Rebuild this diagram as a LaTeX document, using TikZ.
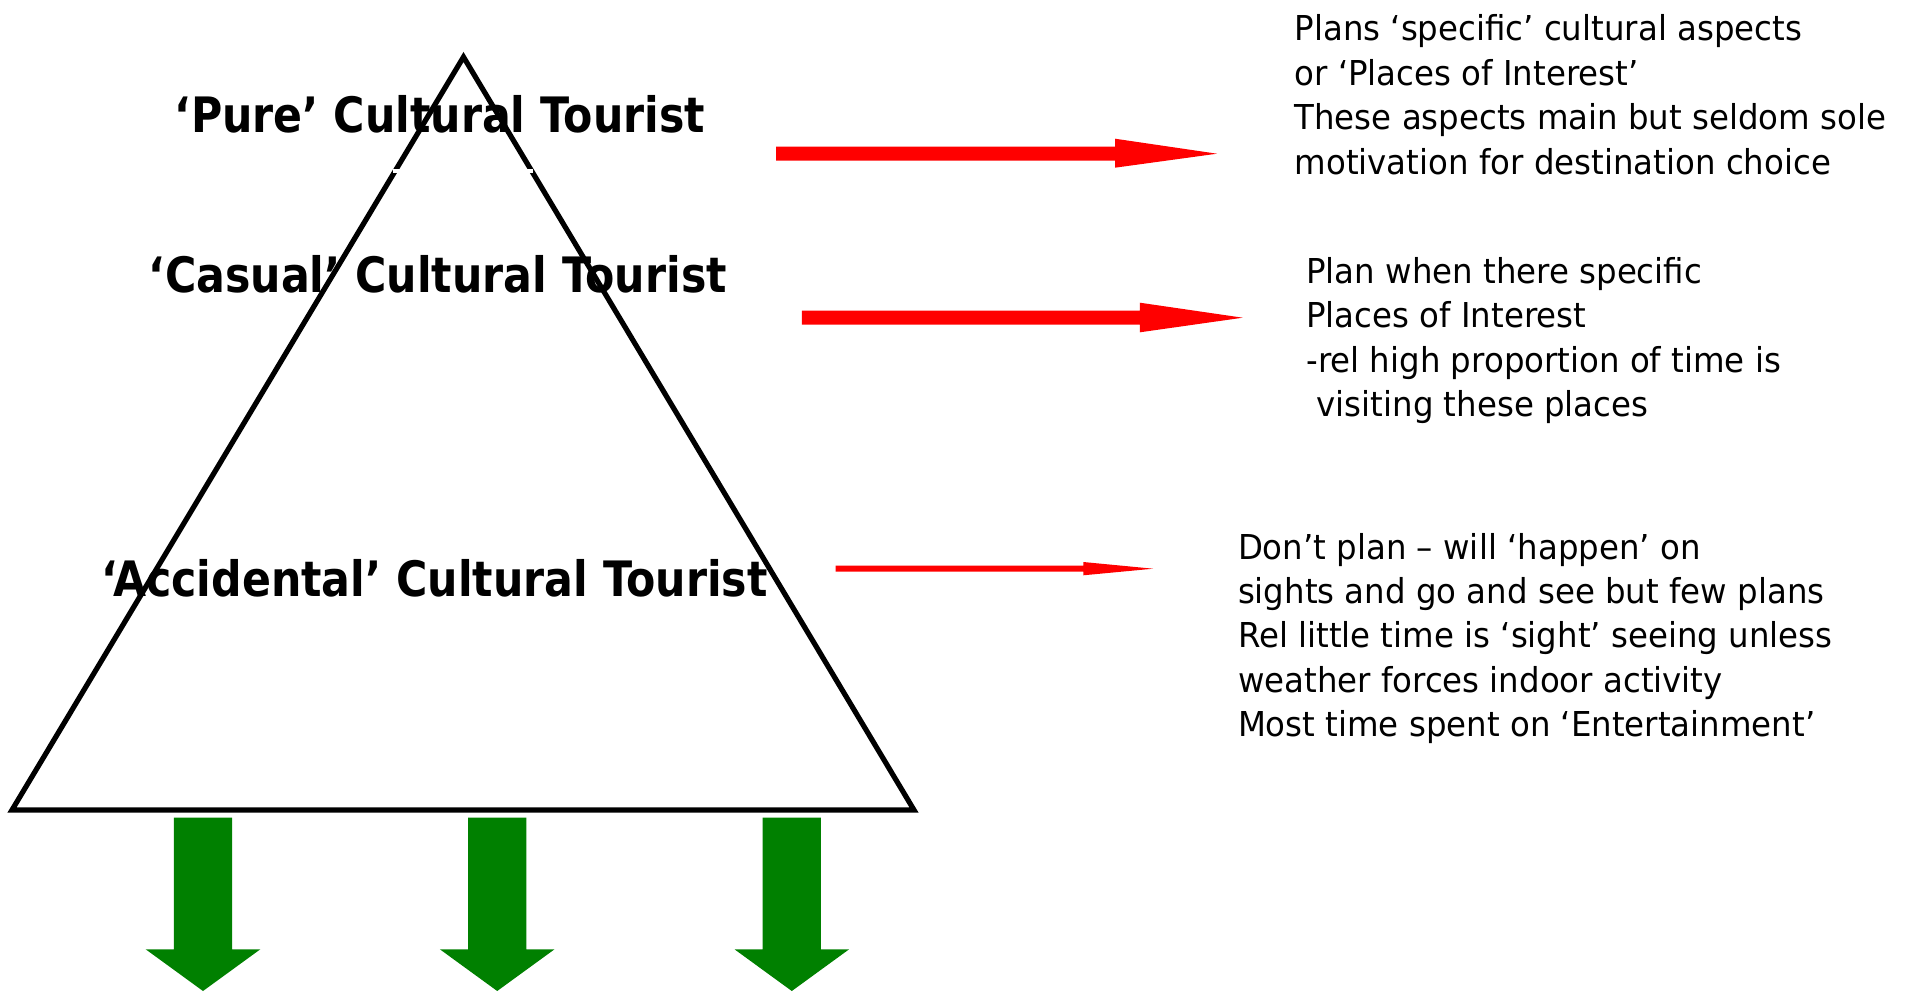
\documentclass[tikz,border=0pt]{standalone}
\usepackage{fontspec}
\setmainfont{DejaVu Sans}
\newfontfamily\bodyfont{DejaVu Sans}[FakeStretch=0.945]
\newfontfamily\headfont{DejaVu Sans}[FakeStretch=0.875]
\definecolor{arrowred}{RGB}{255,0,0}
\definecolor{arrowgreen}{RGB}{0,128,0}
\tikzset{
  pyramid/.style={draw=black, line width=2.6pt, line join=miter},
  level/.style={font=\headfont\bfseries\fontsize{24.4pt}{29pt}\selectfont, inner sep=0pt, anchor=base},
  note/.style={font=\bodyfont\fontsize{17.15pt}{22.2pt}\selectfont, inner sep=0pt, anchor=base west, align=left},
  redarrow/.style={fill=arrowred, draw=none},
  greenarrow/.pic={
    \fill[arrowgreen] (-29.1,0) -- (29.1,0) -- (29.1,131.6) -- (57.3,131.6)
      -- (0,173.3) -- (-57.3,131.6) -- (-29.1,131.6) -- cycle;
  }
}
\begin{document}
\begin{tikzpicture}[x=0.5pt, y=-0.5pt]
  \useasboundingbox (0,0) rectangle (1912,991);

  % pyramid
  \coordinate (apex) at (463.5,57);
  \coordinate (bl) at (12,810);
  \coordinate (br) at (914,810);
  \draw[pyramid] (apex) -- (bl) -- (br) -- cycle;
  \fill[white] (393.3,169.3) rectangle (403.3,173.3);
  \fill[white] (526.7,169.3) rectangle (533.3,173.3);

  % tourist types
  \node[level] (pure) at (440,132) {‘Pure’ Cultural Tourist};
  \node[level] (casual) at (437.8,292.8) {‘Casual’ Cultural Tourist};
  \node[level] (accidental) at (434.8,596.7) {‘Accidental’ Cultural Tourist};

  % red arrows towards the descriptions
  \fill[redarrow] (776,146.7) -- (1115,146.7) -- (1115,138.7) -- (1217,153.7)
    -- (1115,167.7) -- (1115,160.7) -- (776,160.7) -- cycle;
  \fill[redarrow] (801.9,310.7) -- (1139.9,310.7) -- (1139.9,302.7) -- (1242.7,317.7)
    -- (1139.9,332.3) -- (1139.9,324.7) -- (801.9,324.7) -- cycle;
  \fill[redarrow] (835.7,565.7) -- (1083.3,565.7) -- (1083.3,562) -- (1153.1,568.7)
    -- (1083.3,575.3) -- (1083.3,571.7) -- (835.7,571.7) -- cycle;

  % descriptions (anchored at the baseline of their last line)
  \node[note] (purenote) at (1294.2,174) {Plans ‘specific’ cultural aspects\\
    or ‘Places of Interest’\\
    These aspects main but seldom sole\\
    motivation for destination choice};
  \node[note] (casualnote) at (1306,416.7) {Plan when there specific\\
    Places of Interest\\
    -rel high proportion of time is\\
    \ visiting these places};
  \node[note] (accnote) at (1237.6,736.7) {Don’t plan – will ‘happen’ on\\
    sights and go and see but few plans\\
    Rel little time is ‘sight’ seeing unless\\
    weather forces indoor activity\\
    Most time spent on ‘Entertainment’};

  % green arrows below the base
  \pic at (203,817.7) {greenarrow};
  \pic at (497.2,817.7) {greenarrow};
  \pic at (791.8,817.7) {greenarrow};
\end{tikzpicture}
\end{document}
